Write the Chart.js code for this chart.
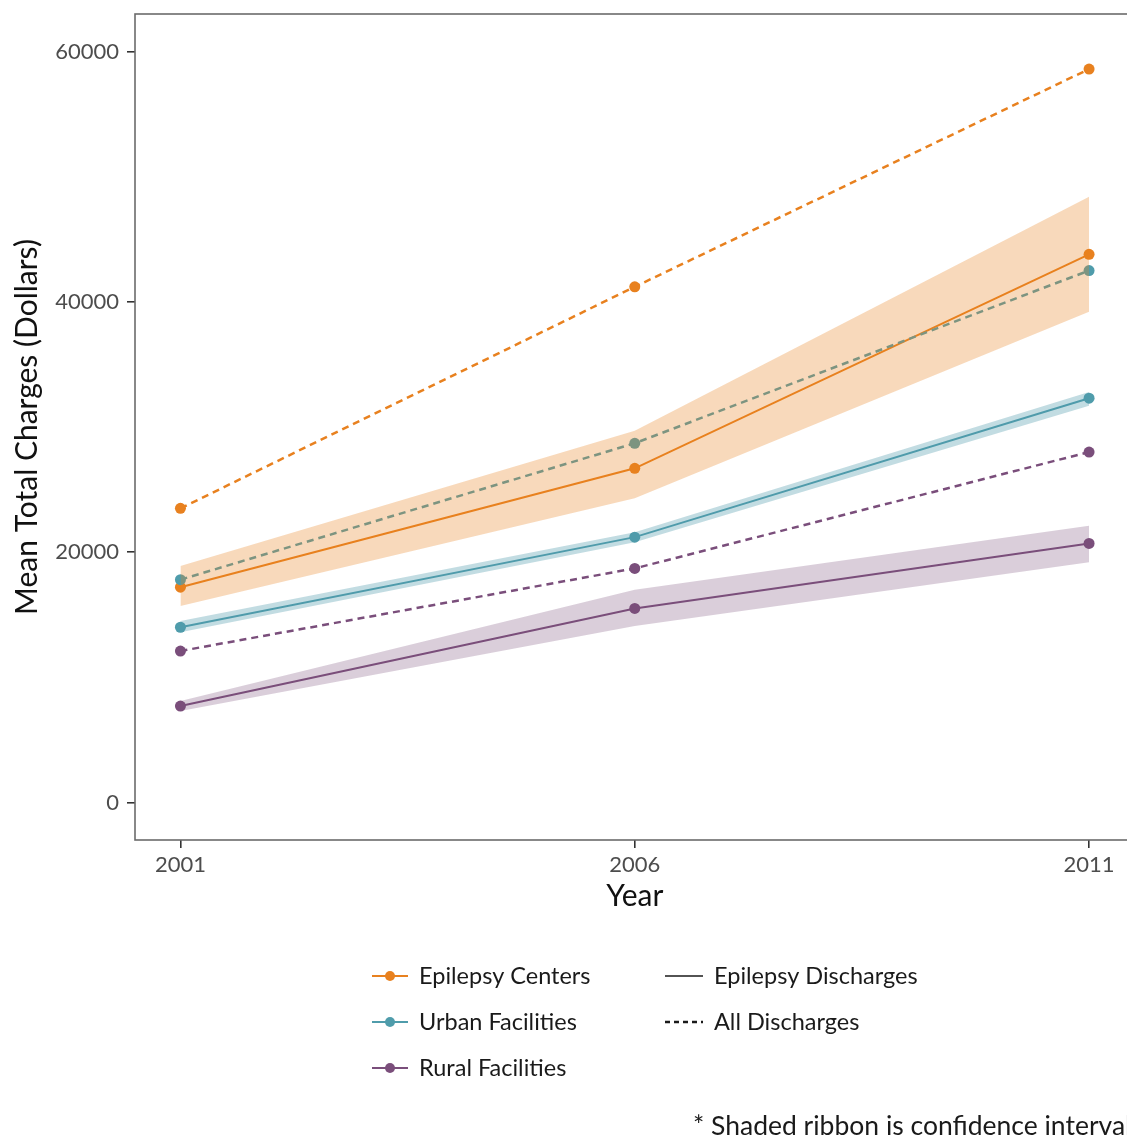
<!DOCTYPE html>
<html>
<head>
<meta charset="utf-8">
<script src="https://cdn.jsdelivr.net/npm/chart.js@4/dist/chart.umd.min.js"></script>
<style>
  html, body { margin: 0; padding: 0; background: #fff; overflow: hidden; }
  #wrap { width: 1140px; height: 1138px; }
</style>
</head>
<body>
<div id="wrap"><canvas id="c" width="1140" height="1138"></canvas></div>
<script>
// Survey years and axis ticks
const years = [2001, 2006, 2011];
const yTicks = [0, 20000, 40000, 60000];

// Mean total charges, epilepsy discharges
const centersEpi = [17200, 26700, 43800];
const urbanEpi   = [14000, 21200, 32300];
const ruralEpi   = [7700, 15500, 20700];

// Mean total charges, all discharges
const centersAll = [23500, 41200, 58600];
const urbanAll   = [17800, 28700, 42500];
const ruralAll   = [12100, 18700, 28000];

// Confidence interval bounds for epilepsy discharges
const centersLo = [15700, 24300, 39200];
const centersHi = [18900, 29700, 48400];
const urbanLo   = [13600, 20800, 31700];
const urbanHi   = [14500, 21600, 32800];
const ruralLo   = [7300, 14100, 19200];
const ruralHi   = [8100, 17000, 22100];

const groups = ['Epilepsy Centers', 'Urban Facilities', 'Rural Facilities'];
const styleLabels = ['Epilepsy Discharges', 'All Discharges'];
const footnote = '* Shaded ribbon is confidence interval';

const FONT = 'Lato, "Open Sans", sans-serif';
const colors = { centers: '#E8811F', urban: '#4F9CAB', rural: '#7A4E7B' };
const ribbonFill = {
  centers: 'rgba(232,129,31,0.30)',
  urban:   'rgba(79,156,171,0.35)',
  rural:   'rgba(122,78,123,0.28)'
};

const pts = arr => years.map((x, i) => ({ x, y: arr[i] }));

function lineSet(label, data, color, dashed) {
  return {
    label, data: pts(data), order: 1,
    borderColor: color, backgroundColor: color,
    borderWidth: dashed ? 2.5 : 2,
    borderDash: dashed ? [7, 5] : [],
    pointRadius: 5.5, pointHoverRadius: 5.5,
    pointBackgroundColor: color, pointBorderWidth: 0,
    fill: false, tension: 0
  };
}
function ribbonSet(label, hi, lo, fillColor) {
  return [
    { label: label + ' upper', data: pts(hi), order: 0, fill: '+1',
      backgroundColor: fillColor, borderWidth: 0, pointRadius: 0, tension: 0 },
    { label: label + ' lower', data: pts(lo), order: 0, fill: false,
      borderWidth: 0, pointRadius: 0, tension: 0 }
  ];
}

const datasets = [
  lineSet('Epilepsy Centers, all', centersAll, colors.centers, true),
  lineSet('Urban Facilities, all', urbanAll, colors.urban, true),
  lineSet('Rural Facilities, all', ruralAll, colors.rural, true),
  lineSet('Epilepsy Centers, epilepsy', centersEpi, colors.centers, false),
  lineSet('Urban Facilities, epilepsy', urbanEpi, colors.urban, false),
  lineSet('Rural Facilities, epilepsy', ruralEpi, colors.rural, false),
  ...ribbonSet('Epilepsy Centers', centersHi, centersLo, ribbonFill.centers),
  ...ribbonSet('Urban Facilities', urbanHi, urbanLo, ribbonFill.urban),
  ...ribbonSet('Rural Facilities', ruralHi, ruralLo, ribbonFill.rural)
];

// Panel frame around the plotting area
const framePlugin = {
  id: 'frame',
  afterDraw(chart) {
    const { ctx, chartArea: a } = chart;
    ctx.save();
    ctx.strokeStyle = '#6b6b6b';
    ctx.lineWidth = 1.6;
    ctx.strokeRect(a.left, a.top, a.right - a.left, a.bottom - a.top);
    ctx.restore();
  }
};

// Two-column legend (colour groups and line types) plus footnote
const legendPlugin = {
  id: 'customLegend',
  afterDraw(chart) {
    const ctx = chart.ctx;
    ctx.save();
    ctx.font = '23.5px ' + FONT;
    ctx.fillStyle = '#1a1a1a';
    ctx.textBaseline = 'middle';
    const rows = [976, 1022, 1068];
    const gColors = [colors.centers, colors.urban, colors.rural];
    groups.forEach((g, i) => {
      const y = rows[i];
      ctx.strokeStyle = gColors[i];
      ctx.lineWidth = 2;
      ctx.setLineDash([]);
      ctx.beginPath(); ctx.moveTo(372, y); ctx.lineTo(408, y); ctx.stroke();
      ctx.fillStyle = gColors[i];
      ctx.beginPath(); ctx.arc(390, y, 5, 0, Math.PI * 2); ctx.fill();
      ctx.fillStyle = '#1a1a1a';
      ctx.fillText(g, 419, y);
    });
    styleLabels.forEach((s, i) => {
      const y = rows[i];
      ctx.strokeStyle = '#1a1a1a';
      ctx.lineWidth = i === 0 ? 1.6 : 2.5;
      ctx.setLineDash(i === 0 ? [] : [5, 4]);
      ctx.beginPath(); ctx.moveTo(665, y); ctx.lineTo(703, y); ctx.stroke();
      ctx.setLineDash([]);
      ctx.fillText(s, 714, y);
    });
    ctx.font = '26.5px ' + FONT;
    ctx.fillText(footnote, 693, 1126);
    ctx.restore();
  }
};

new Chart(document.getElementById('c'), {
  type: 'line',
  data: { datasets },
  options: {
    responsive: false,
    animation: false,
    events: [],
    layout: { padding: { left: 0, right: 4, top: 14, bottom: 218 } },
    plugins: { legend: { display: false }, tooltip: { enabled: false } },
    scales: {
      x: {
        type: 'linear', min: 2000.5, max: 2011.5,
        afterBuildTicks: s => { s.ticks = years.map(v => ({ value: v })); },
        afterFit: s => { s.height = 80; s.paddingLeft = 0; s.paddingRight = 0; },
        border: { display: false },
        grid: { display: true, drawOnChartArea: false, drawTicks: true, tickLength: 8, color: '#333', lineWidth: 1.6 },
        ticks: { callback: v => String(v), color: '#4d4d4d', padding: 4, maxRotation: 0,
                 font: { family: FONT, size: 22 } },
        title: { display: true, text: 'Year', color: '#111',
                 font: { family: FONT, size: 30 }, padding: { top: 0, bottom: 6 } }
      },
      y: {
        min: -3000, max: 63000,
        afterBuildTicks: s => { s.ticks = yTicks.map(v => ({ value: v })); },
        afterFit: s => { s.width = 135; s.paddingTop = 0; s.paddingBottom = 0; },
        border: { display: false },
        grid: { display: true, drawOnChartArea: false, drawTicks: true, tickLength: 8, color: '#333', lineWidth: 1.6 },
        ticks: { callback: v => String(v), color: '#4d4d4d', padding: 8,
                 font: { family: FONT, size: 22 } },
        title: { display: true, text: 'Mean Total Charges (Dollars)', color: '#111',
                 font: { family: FONT, size: 30 }, padding: { top: 9, bottom: 0 } }
      }
    }
  },
  plugins: [framePlugin, legendPlugin]
});
</script>
</body>
</html>
